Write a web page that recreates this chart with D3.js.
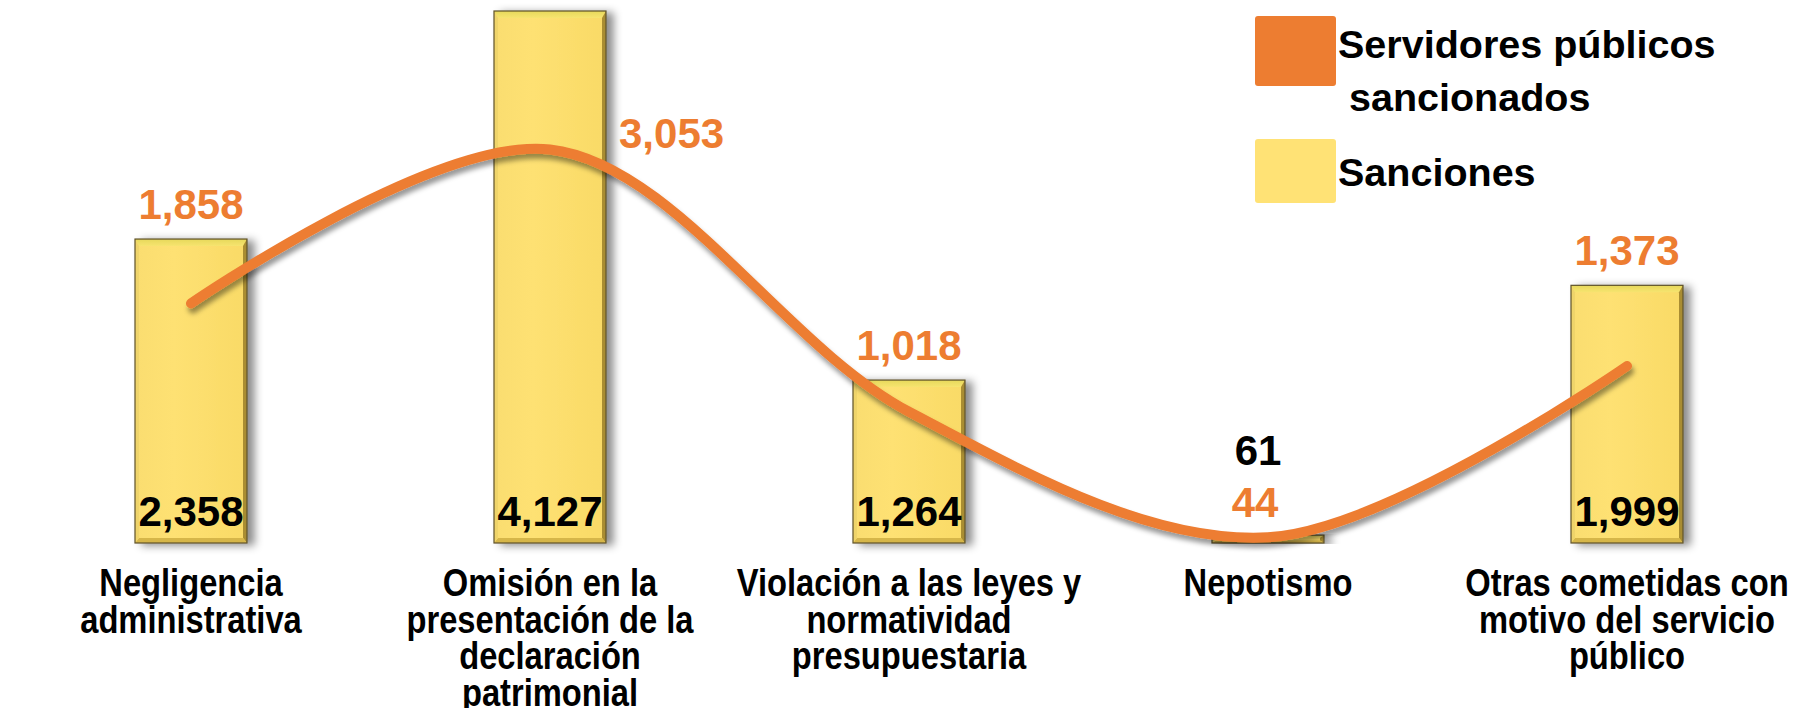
<!DOCTYPE html>
<html><head><meta charset="utf-8">
<script src="https://cdn.jsdelivr.net/npm/d3@7"></script>
<style>body{margin:0;background:#fff} svg{display:block}</style>
</head><body><svg id="c" width="1796" height="708"></svg>
<script>
// ---- data ----
const categories = [
  ["Negligencia", "administrativa"],
  ["Omisión en la", "presentación de la", "declaración", "patrimonial"],
  ["Violación a las leyes y", "normatividad", "presupuestaria"],
  ["Nepotismo"],
  ["Otras cometidas con", "motivo del servicio", "público"]
];
const sanciones = [2358, 4127, 1264, 61, 1999];
const servidores = [1858, 3053, 1018, 44, 1373];
const legendLabels = [["Servidores públicos", " sancionados"], ["Sanciones"]];

// ---- setup ----
const svg = d3.select("#c");
const ORANGE = "#ED7D31", YELLOW = "#FFE275";
const FONT = "'Liberation Sans', Arial, Helvetica, sans-serif";
const fmt = d3.format(",");

const idx = d3.range(categories.length);
const x = d3.scaleBand().domain(idx).range([11.5, 1806.5]).paddingInner(0.688).paddingOuter(0.344);
const y = d3.scaleLinear().domain([0, 4127]).range([543, 11]);
const cx = i => x(i) + x.bandwidth() / 2;

const defs = svg.append("defs");
const fb = defs.append("filter").attr("id", "barShadow").attr("x", "-20%").attr("y", "-5%").attr("width", "160%").attr("height", "115%");
fb.append("feDropShadow").attr("dx", 7).attr("dy", 2).attr("stdDeviation", 4).attr("flood-color", "#000").attr("flood-opacity", 0.45);
const fl = defs.append("filter").attr("id", "lineShadow").attr("x", "-5%").attr("y", "-10%").attr("width", "110%").attr("height", "130%");
fl.append("feDropShadow").attr("dx", 2).attr("dy", 5).attr("stdDeviation", 2.5).attr("flood-color", "#000").attr("flood-opacity", 0.4);
const fa = defs.append("filter").attr("id", "axShadow").attr("y", "-200%").attr("height", "500%");
fa.append("feDropShadow").attr("dx", 0).attr("dy", 2).attr("stdDeviation", 1.5).attr("flood-color", "#000").attr("flood-opacity", 0.3);

const gFace = defs.append("linearGradient").attr("id", "face").attr("x1", 0).attr("x2", 1).attr("y1", 0).attr("y2", 0);
gFace.append("stop").attr("offset", 0).attr("stop-color", "#FADD70");
gFace.append("stop").attr("offset", 0.35).attr("stop-color", "#FEE173");
gFace.append("stop").attr("offset", 1).attr("stop-color", "#F9DA66");
const gTop = defs.append("linearGradient").attr("id", "topb").attr("x1", 0).attr("x2", 0).attr("y1", 0).attr("y2", 1);
gTop.append("stop").attr("offset", 0).attr("stop-color", "#E6D85A");
gTop.append("stop").attr("offset", 1).attr("stop-color", "#F7E470");

// ---- axis ----
const axis = d3.axisBottom(x).tickSize(0).tickSizeOuter(0).tickFormat("");
const gAxis = svg.append("g").attr("transform", `translate(0,${y(0)})`).call(axis);
gAxis.select(".domain").attr("stroke", "#1a1a1a").attr("stroke-width", 1.6).attr("filter", "url(#axShadow)");

// ---- bars ----
const bars = svg.append("g").selectAll("g").data(sanciones).join("g").attr("filter", "url(#barShadow)");
bars.each(function(d, i) {
  const g = d3.select(this);
  const x0 = x(i), x1 = x(i) + x.bandwidth(), y0 = y(d), y1 = y(0);
  const h = y1 - y0;
  const bt = Math.min(7, h / 3), bs = 4, bb = Math.min(5, h / 3);
  g.append("rect").attr("x", x0).attr("y", y0).attr("width", x1 - x0).attr("height", h)
    .attr("fill", "url(#face)");
  const poly = (pts, fill) => g.append("polygon").attr("points", pts.map(p => p.join(",")).join(" ")).attr("fill", fill);
  poly([[x0, y0], [x1, y0], [x1 - bs, y0 + bt], [x0 + bs, y0 + bt]], "url(#topb)");
  poly([[x1, y0], [x1, y1], [x1 - bs, y1 - bb], [x1 - bs, y0 + bt]], "#A98D33");
  poly([[x0, y1], [x1, y1], [x1 - bs, y1 - bb], [x0 + bs, y1 - bb]], "#D6B648");
  poly([[x0, y0], [x0 + bs, y0 + bt], [x0 + bs, y1 - bb], [x0, y1]], "#EFD46A");
  g.append("rect").attr("x", x0).attr("y", y0).attr("width", x1 - x0).attr("height", h)
    .attr("fill", "none").attr("stroke", "#5E512A").attr("stroke-width", 1.2);
});

// ---- line ----
const line = d3.line().x((d, i) => cx(i)).y(d => y(d)).curve(d3.curveCatmullRom.alpha(0.5));
svg.append("path").datum(servidores).attr("d", line).attr("fill", "none")
  .attr("stroke", ORANGE).attr("stroke-width", 10).attr("stroke-linecap", "round")
  .attr("filter", "url(#lineShadow)");

// ---- value labels ----
const txt = (sel) => sel.attr("font-family", FONT).attr("font-weight", "bold").attr("font-size", 42);
svg.append("g").selectAll("text").data(sanciones).join("text").call(txt)
  .attr("text-anchor", "middle").attr("fill", "#000")
  .attr("x", (d, i) => cx(i) + (i === 3 ? -10 : 0))
  .attr("y", (d, i) => i === 3 ? y(0) - 78 : y(0) - 17)
  .text(d => fmt(d));
svg.append("g").selectAll("text").data(servidores).join("text").call(txt)
  .attr("fill", ORANGE)
  .attr("text-anchor", (d, i) => i === 1 ? "start" : "middle")
  .attr("x", (d, i) => i === 1 ? x(i) + x.bandwidth() + 13 : cx(i) + (i === 3 ? -13 : 0))
  .attr("y", (d, i) => i === 1 ? y(d) - 1 : i === 3 ? y(0) - 26 : y(sanciones[i]) - 20)
  .text(d => fmt(d));

// ---- category labels ----
const cl = svg.append("g").selectAll("text").data(categories).join("text")
  .attr("font-family", FONT).attr("font-weight", "bold").attr("font-size", 38).attr("fill", "#000")
  .attr("text-anchor", "middle");
cl.each(function(lines, i) {
  const t = d3.select(this);
  lines.forEach((l, k) => {
    const ts = t.append("tspan").attr("x", cx(i)).attr("y", 596 + k * 36.5).text(l);
    const w = ts.node().getComputedTextLength();
    ts.attr("textLength", w * 0.86).attr("lengthAdjust", "spacingAndGlyphs");
  });
});

// ---- legend ----
const lg = svg.append("g");
const legendColors = [ORANGE, YELLOW];
const legendY = [16, 139], legendH = [70, 64];
legendLabels.forEach((lines, i) => {
  lg.append("rect").attr("x", 1255).attr("y", legendY[i]).attr("width", 81).attr("height", legendH[i])
    .attr("rx", 3).attr("fill", legendColors[i]);
  const t = lg.append("text").attr("font-family", FONT).attr("font-weight", "bold").attr("font-size", 39.5)
    .attr("fill", "#000").style("white-space", "pre");
  lines.forEach((l, k) => {
    t.append("tspan").attr("x", 1338).attr("y", (i === 0 ? 58 : 186) + k * 53).text(l);
  });
});
</script>
</body></html>
